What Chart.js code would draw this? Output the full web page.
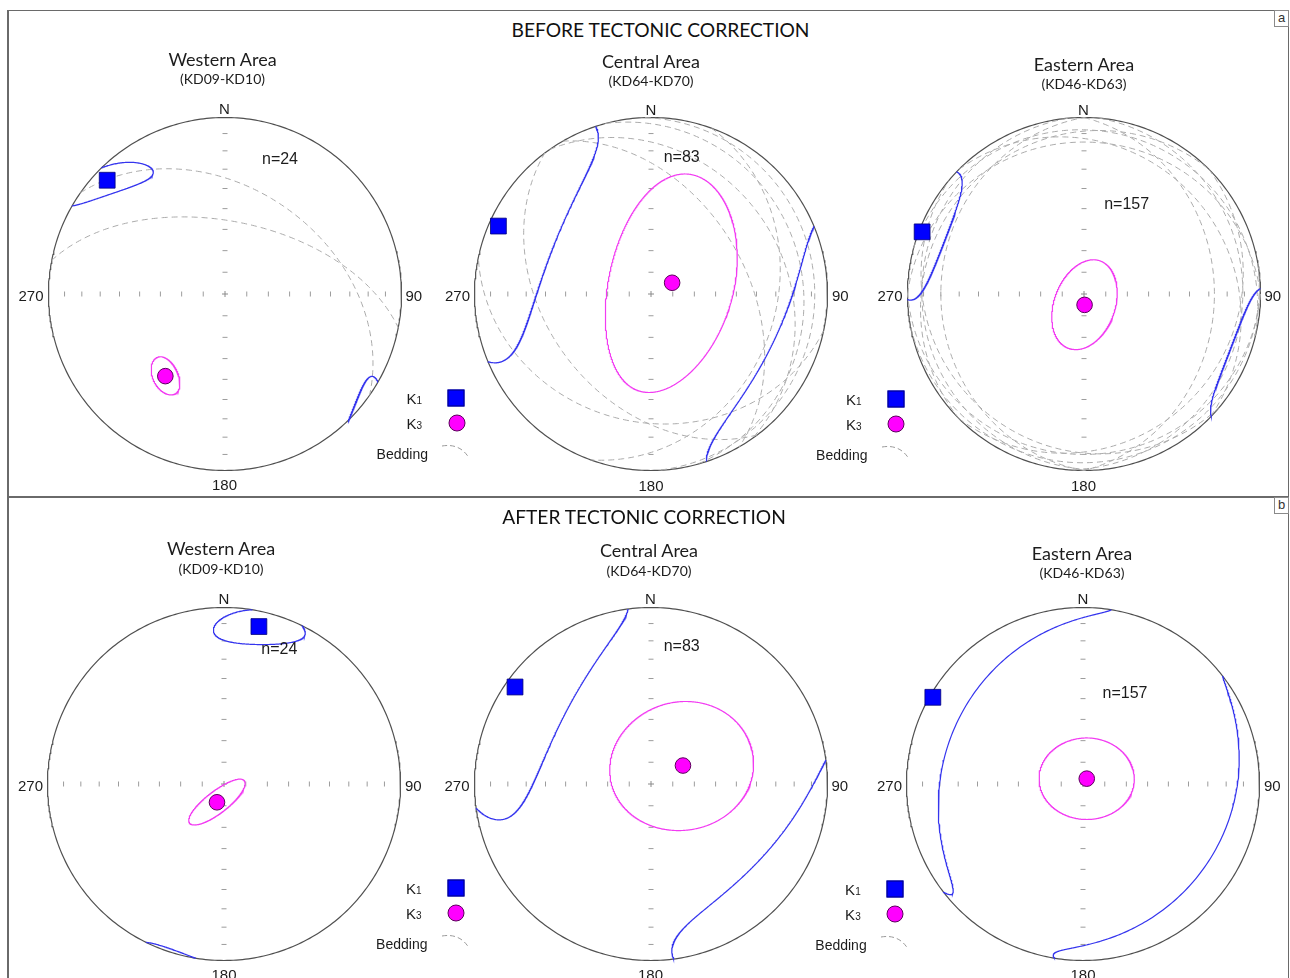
<!DOCTYPE html>
<html lang="en">
<head>
<meta charset="utf-8">
<title>AMS stereonets – before and after tectonic correction</title>
<script src="https://cdn.jsdelivr.net/npm/chart.js@4.4.1/dist/chart.umd.min.js"></script>
<style>
html,body{margin:0;padding:0;background:#fff;}
#page{position:relative;width:1290px;height:978px;overflow:hidden;background:#fff;}
#page canvas{position:absolute;}
.t{position:absolute;white-space:nowrap;color:#1c1c1c;line-height:1;}
.c{transform:translate(-50%,-50%);}
.r{transform:translate(-100%,-50%);}
.l{transform:translate(0,-50%);}
.head{font-family:Lato,'Open Sans',sans-serif;font-size:19.2px;color:#111;}
.area{font-family:Lato,'Open Sans',sans-serif;font-size:18px;}
.sites{font-family:Lato,'Open Sans',sans-serif;font-size:14px;}
.num{font-family:'Liberation Sans',Arial,sans-serif;font-size:16px;}
.card{font-family:'Liberation Sans',Arial,sans-serif;font-size:15px;}
.leg{font-family:'Liberation Sans',Arial,sans-serif;font-size:14px;}
.legk{font-family:'Liberation Sans',Arial,sans-serif;font-size:15px;}
.legk span{font-size:10px;}
.line{position:absolute;background:#6a6a6a;}
.tag{position:absolute;width:13px;height:15px;border:1px solid #8a8a8a;background:#fff;
     font-family:'Liberation Sans',Arial,sans-serif;font-size:13px;line-height:14px;text-align:center;color:#333;}
.sq{position:absolute;width:15px;height:15px;background:#0000ff;border:1px solid #00007a;transform:translate(-50%,-50%);}
.dot{position:absolute;width:15px;height:15px;border-radius:50%;background:#ff00ff;border:1px solid #5a005a;transform:translate(-50%,-50%);}
</style>
</head>
<body>
<div id="page"></div>
<script>
// ---------------- data ----------------
const PANEL_TITLES = ['BEFORE TECTONIC CORRECTION', 'AFTER TECTONIC CORRECTION'];
const PANEL_TAGS = ['a', 'b'];
const AREA_NAMES = ['Western Area', 'Central Area', 'Eastern Area'];
const AREA_SITES = ['(KD09-KD10)', '(KD64-KD70)', '(KD46-KD63)'];
const SPECIMEN_COUNTS = [24, 83, 157];

// mean principal axes [trend°, plunge°] for each area (west, central, east)
const K1_BEFORE = [[314, 8], [294, 6], [291, 2]];
const K3_BEFORE = [[216, 42], [62, 79], [177, 85]];
const K1_AFTER = [[12.5, 9.5], [305.5, 6], [300, 2]];
const K3_AFTER = [[201, 81], [60, 73], [35, 87]];

// 95% confidence ellipses [semi-major°, semi-minor°, axis rotation° from the strike direction]
const K1_CONF_BEFORE = [[20, 7, 45], [48, 32.5, -6], [23, 14.5, 0]];
const K3_CONF_BEFORE = [[9, 6, 40], [53, 29, 42], [21.5, 14, -67]];
const K1_CONF_AFTER = [[17, 10, -25], [49, 31, -18], [70, 19.5, -3]];
const K3_CONF_AFTER = [[16, 5, 121], [34, 29.5, 105], [22, 18.8, -35]];

// bedding planes [dip direction°, dip°] measured at the sites of each area
const BEDDING_WEST = [[35, 40], [11, 56]];
const BEDDING_CENTRAL = [[233, 40], [55, 25], [60, 45], [75, 15], [88, 8], [192, 28], [110, 30]];
const BEDDING_EAST = [[270, 20], [90, 27], [0, 15], [15, 8], [180, 10], [170, 5], [95, 11],
                      [265, 9], [45, 18], [220, 14], [135, 16], [315, 12]];

// graduation of the net: plunge of each tick along the N-S and E-W diameters
const PLUNGE_TICKS = [10, 20, 30, 40, 50, 60, 70, 80];
const AXIS_LABELS = ['N', '90', '180', '270'];

// ---------------- layout ----------------
const NET_CENTERS = [
  [[224.5, 293.5], [651, 294], [1083.5, 294.3]],
  [[224, 783.5], [650.5, 783.5], [1083, 783.5]]
];
const RADIUS_PX = 176.5;
const HALF = 240;
const SPAN = HALF / RADIUS_PX;
const TITLE_POS = [[660.5, 29.5], [644, 517]];
const AREA_POS = [
  [[222.5, 58.5, 79], [651, 61, 81], [1084, 63.5, 83.5]],
  [[221, 547.5, 568.5], [649, 550, 570.5], [1082, 552.5, 573]]
];
const COUNT_POS = [
  [[280, 159], [681.7, 156.7], [1126.7, 203.5]],
  [[279.3, 649.3], [681.7, 646], [1125, 692.7]]
];
const LEGEND_POS = [[[456, 398], [895.5, 398.5]], [[455.5, 888], [894.7, 888.5]]];

const page = document.getElementById('page');

// ---------------- spherical helpers (N, E, Down) ----------------
const D2R = Math.PI / 180;
function dirVec(trend, plunge) {
  const t = trend * D2R, p = plunge * D2R;
  return [Math.cos(p) * Math.cos(t), Math.cos(p) * Math.sin(t), Math.sin(p)];
}
// Lambert equal-area, lower hemisphere, unit primitive
function projVec(v) {
  let [n, e, d] = v;
  if (d < 0) { n = -n; e = -e; d = -d; }
  const len = Math.hypot(n, e, d);
  n /= len; e /= len; d /= len;
  const h = Math.hypot(n, e);
  if (h < 1e-12) return { x: 0, y: 0 };
  const plunge = Math.atan2(d, h);
  const r = Math.SQRT2 * Math.sin((Math.PI / 2 - plunge) / 2);
  return { x: r * e / h, y: r * n / h };
}
const projDir = (tp) => projVec(dirVec(tp[0], tp[1]));

// confidence cone around a mean axis, traced through the tangent (gnomonic) plane
function ellipseTrace(mean, conf, steps = 720) {
  const [tr, pl] = mean, [a, b, g] = conf;
  const T = tr * D2R, P = pl * D2R, G = g * D2R;
  const v = dirVec(tr, pl);
  const eAz = [-Math.sin(T), Math.cos(T), 0];
  const eDip = [-Math.sin(P) * Math.cos(T), -Math.sin(P) * Math.sin(T), Math.cos(P)];
  const w1 = eAz.map((c, i) => Math.cos(G) * c + Math.sin(G) * eDip[i]);
  const w2 = eAz.map((c, i) => -Math.sin(G) * c + Math.cos(G) * eDip[i]);
  const ta = Math.tan(a * D2R), tb = Math.tan(b * D2R);
  const raw = [];
  for (let i = 0; i <= steps; i++) {
    const t = 2 * Math.PI * i / steps;
    const c = ta * Math.cos(t), s = tb * Math.sin(t);
    const p = v.map((x, k) => x + c * w1[k] + s * w2[k]);
    const L = Math.hypot(...p);
    raw.push(p.map(x => x / L));
  }
  const out = [];
  for (let i = 0; i < raw.length; i++) {
    const p = raw[i];
    if (i > 0) {
      const q = raw[i - 1];
      if ((q[2] >= 0) !== (p[2] >= 0)) {
        // the cone leaves the lower hemisphere: close on the primitive and resume opposite
        const s = q[2] / (q[2] - p[2]);
        const m = q.map((x, k) => x + s * (p[k] - x));
        m[2] = 0;
        const neg = m.map(x => -x);
        out.push(projVec(q[2] >= 0 ? m : neg));
        out.push({ x: null, y: null });
        out.push(projVec(p[2] >= 0 ? m : neg));
      }
    }
    out.push(projVec(p));
  }
  return out;
}

function greatCircle(plane, steps = 180) {
  const [dd, dip] = plane;
  const s = dirVec(dd - 90, 0), dv = dirVec(dd, dip);
  const pts = [];
  for (let i = 0; i <= steps; i++) {
    const r = Math.PI * i / steps;
    pts.push(projVec(s.map((x, k) => Math.cos(r) * x + Math.sin(r) * dv[k])));
  }
  return pts;
}

function primitive() {
  const pts = [];
  for (let az = 0; az <= 360; az += 1) pts.push(projDir([az, 0]));
  return pts;
}

// ---------------- drawing ----------------
function addText(txt, x, y, cls, align) {
  const d = document.createElement('div');
  d.className = 't ' + cls + ' ' + (align || 'c');
  d.textContent = txt;
  d.style.left = x + 'px';
  d.style.top = y + 'px';
  page.appendChild(d);
  return d;
}

function lineSet(data, color, width, order, dash) {
  return {
    data, showLine: true, pointRadius: 0, borderColor: color, borderWidth: width,
    borderDash: dash || [], order, tension: 0, spanGaps: false, fill: false
  };
}

function makeNet(row, col, k1, k3, k1Conf, k3Conf, bedding) {
  const [cx, cy] = NET_CENTERS[row][col];
  const cv = document.createElement('canvas');
  cv.width = 2 * HALF; cv.height = 2 * HALF;
  cv.style.left = (cx - HALF) + 'px';
  cv.style.top = (cy - HALF) + 'px';
  page.appendChild(cv);

  const datasets = [];
  datasets.push({
    label: 'K1', data: [projDir(k1)], pointStyle: 'rect', pointRadius: 11.2,
    pointBackgroundColor: '#0000ff', pointBorderColor: '#00007a', pointBorderWidth: 0.8, order: 0
  });
  datasets.push({
    label: 'K3', data: [projDir(k3)], pointStyle: 'circle', pointRadius: 7.8,
    pointBackgroundColor: '#ff00ff', pointBorderColor: '#5a005a', pointBorderWidth: 1, order: 0
  });
  datasets.push(lineSet(ellipseTrace(k1, k1Conf), '#3535ee', 1.2, 1));
  datasets.push(lineSet(ellipseTrace(k3, k3Conf), '#f23cf2', 1.2, 1));
  bedding.forEach(pl => datasets.push(lineSet(greatCircle(pl), '#ababab', 1, 2, [6, 4])));
  datasets.push(lineSet(primitive(), '#505050', 1.2, 3));

  const ew = [], ns = [];
  PLUNGE_TICKS.forEach(p => {
    ew.push(projDir([90, p]), projDir([270, p]));
    ns.push(projDir([0, p]), projDir([180, p]));
  });
  datasets.push({ data: ew, pointStyle: 'line', pointRotation: 90, pointRadius: 2.5,
    pointBorderColor: '#9c9c9c', pointBorderWidth: 1, order: 4 });
  datasets.push({ data: ns, pointStyle: 'line', pointRotation: 0, pointRadius: 2.5,
    pointBorderColor: '#9c9c9c', pointBorderWidth: 1, order: 4 });
  datasets.push({ data: [projDir([0, 90])], pointStyle: 'cross', pointRadius: 3,
    pointBorderColor: '#8a8a8a', pointBorderWidth: 1, order: 4 });

  const chart = new Chart(cv, {
    type: 'scatter',
    data: { datasets },
    options: {
      responsive: false, animation: false, devicePixelRatio: 1, events: [],
      layout: { padding: 0, autoPadding: false },
      plugins: { legend: { display: false }, tooltip: { enabled: false } },
      scales: {
        x: { type: 'linear', min: -SPAN, max: SPAN, display: false },
        y: { type: 'linear', min: -SPAN, max: SPAN, display: false }
      }
    }
  });

  // compass labels placed from the chart's own scales
  const ox = cx - HALF, oy = cy - HALF;
  const px = v => ox + chart.scales.x.getPixelForValue(v);
  const py = v => oy + chart.scales.y.getPixelForValue(v);
  addText(AXIS_LABELS[0], px(0), py(1) - 9, 'card');
  addText(AXIS_LABELS[1], px(1) + 4.5, py(0) + 1, 'card', 'l');
  addText(AXIS_LABELS[2], px(0), py(-1) + 14, 'card');
  addText(AXIS_LABELS[3], px(-1) - 4.5, py(0) + 1, 'card', 'r');
  return chart;
}

function addLegend(ax, ay) {
  const k1 = addText('K', ax - 34, ay, 'legk', 'r');
  k1.innerHTML = 'K<span>1</span>';
  const k3 = addText('K', ax - 34, ay + 25, 'legk', 'r');
  k3.innerHTML = 'K<span>3</span>';
  addText('Bedding', ax - 28, ay + 56, 'leg', 'r');
  const sq = document.createElement('div');
  sq.className = 'sq'; sq.style.left = ax + 'px'; sq.style.top = ay + 'px';
  page.appendChild(sq);
  const dot = document.createElement('div');
  dot.className = 'dot'; dot.style.left = (ax + 0.5) + 'px'; dot.style.top = (ay + 25) + 'px';
  page.appendChild(dot);
  const ns = 'http://www.w3.org/2000/svg';
  const svg = document.createElementNS(ns, 'svg');
  svg.setAttribute('width', '32'); svg.setAttribute('height', '18');
  svg.style.position = 'absolute';
  svg.style.left = (ax - 15) + 'px'; svg.style.top = (ay + 46) + 'px';
  const path = document.createElementNS(ns, 'path');
  path.setAttribute('d', 'M1,2 Q19,-1 28,14');
  path.setAttribute('fill', 'none'); path.setAttribute('stroke', '#9a9a9a');
  path.setAttribute('stroke-width', '1'); path.setAttribute('stroke-dasharray', '5,3');
  svg.appendChild(path);
  page.appendChild(svg);
}

function hline(x, y, w) { const d = document.createElement('div'); d.className = 'line';
  d.style.left = x + 'px'; d.style.top = y + 'px'; d.style.width = w + 'px'; d.style.height = '1.5px'; page.appendChild(d); }
function vline(x, y, h) { const d = document.createElement('div'); d.className = 'line';
  d.style.left = x + 'px'; d.style.top = y + 'px'; d.style.width = '1.5px'; d.style.height = h + 'px'; page.appendChild(d); }

// figure frame and panel separator
hline(7, 9.5, 1282);
hline(7, 496, 1282);
vline(7, 9.5, 980);
vline(1287.5, 9.5, 980);

const allK1 = [K1_BEFORE, K1_AFTER], allK3 = [K3_BEFORE, K3_AFTER];
const allK1Conf = [K1_CONF_BEFORE, K1_CONF_AFTER], allK3Conf = [K3_CONF_BEFORE, K3_CONF_AFTER];
const beddingByArea = [BEDDING_WEST, BEDDING_CENTRAL, BEDDING_EAST];

for (let row = 0; row < 2; row++) {
  addText(PANEL_TITLES[row], TITLE_POS[row][0], TITLE_POS[row][1], 'head');
  const tag = document.createElement('div');
  tag.className = 'tag'; tag.textContent = PANEL_TAGS[row];
  tag.style.left = '1274px'; tag.style.top = (row === 0 ? 10 : 497) + 'px';
  page.appendChild(tag);
  for (let col = 0; col < 3; col++) {
    // after correction the bedding is restored to horizontal, so only the primitive remains
    const bedding = row === 0 ? beddingByArea[col] : [];
    makeNet(row, col, allK1[row][col], allK3[row][col], allK1Conf[row][col], allK3Conf[row][col], bedding);
    const [ax, ay1, ay2] = AREA_POS[row][col];
    addText(AREA_NAMES[col], ax, ay1, 'area');
    addText(AREA_SITES[col], ax, ay2, 'sites');
    addText('n=' + SPECIMEN_COUNTS[col], COUNT_POS[row][col][0], COUNT_POS[row][col][1], 'num');
  }
  LEGEND_POS[row].forEach(([ax, ay]) => addLegend(ax, ay));
}
</script>
</body>
</html>
